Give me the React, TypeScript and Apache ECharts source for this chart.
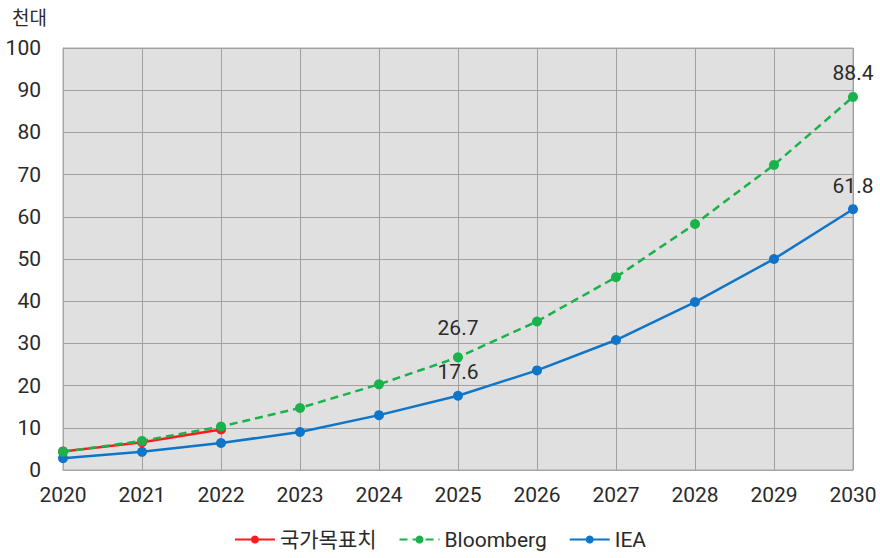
import React, { useEffect, useRef } from "react";
import * as echarts from "echarts";

const years = ["2020", "2021", "2022", "2023", "2024", "2025", "2026", "2027", "2028", "2029", "2030"];
const nationalTarget = [4.4, 6.6, 9.6];
const bloomberg = [4.3, 6.9, 10.3, 14.7, 20.3, 26.7, 35.2, 45.7, 58.3, 72.3, 88.4];
const iea = [2.8, 4.3, 6.4, 9.0, 13.0, 17.6, 23.6, 30.8, 39.8, 50.0, 61.8];
const labelIdx = [5, 10];

const FONT = "Roboto, 'Noto Sans CJK KR', sans-serif";

export default function App() {
  const ref = useRef<HTMLDivElement>(null);
  useEffect(() => {
    const chart = echarts.init(ref.current!, undefined, { renderer: "svg" });
    const lbl = (v: number[]) =>
      v.map((y, i) =>
        labelIdx.includes(i)
          ? { value: y, label: { show: true, position: "top", distance: i === 5 && v === bloomberg ? 14 : 8, formatter: String(y), fontSize: 21, color: "#2a2a2a", fontFamily: FONT } }
          : y
      );
    chart.setOption({
      animation: false,
      textStyle: { fontFamily: FONT },
      grid: { left: 63, right: 27, top: 48, bottom: 88, show: true, backgroundColor: "#e0e0e0", borderColor: "#a6a6a6", borderWidth: 1 },
      title: { text: "천대", left: 7, top: 4, textStyle: { fontSize: 19, fontWeight: "normal", color: "#2a2a2a", fontFamily: FONT } },
      legend: {
        bottom: 3,
        left: "center",
        itemWidth: 40,
        itemHeight: 10,
        itemGap: 22,
        textStyle: { fontSize: 21, color: "#2a2a2a", fontFamily: FONT },
        data: ["국가목표치", "Bloomberg", "IEA"],
      },
      xAxis: {
        type: "category",
        data: years,
        boundaryGap: false,
        axisLine: { lineStyle: { color: "#a6a6a6" } },
        axisTick: { show: false },
        axisLabel: { fontSize: 21, color: "#2a2a2a", margin: 14 },
        splitLine: { show: true, lineStyle: { color: "#a0a0a0", width: 1 } },
      },
      yAxis: {
        type: "value",
        min: 0,
        max: 100,
        interval: 10,
        axisLine: { show: true, lineStyle: { color: "#a6a6a6" } },
        axisLabel: { fontSize: 21, color: "#2a2a2a", margin: 22 },
        splitLine: { lineStyle: { color: "#a0a0a0", width: 1 } },
      },
      series: [
        {
          name: "IEA",
          type: "line",
          data: lbl(iea),
          symbol: "circle",
          symbolSize: 10,
          itemStyle: { color: "#0f75c8" },
          lineStyle: { width: 2.5, color: "#0f75c8" },
          z: 2,
        },
        {
          name: "Bloomberg",
          type: "line",
          data: lbl(bloomberg),
          symbol: "circle",
          symbolSize: 10,
          itemStyle: { color: "#1ab24b" },
          lineStyle: { width: 2.5, type: [8, 5], color: "#1ab24b" },
          z: 4,
        },
        {
          name: "국가목표치",
          type: "line",
          data: nationalTarget,
          symbol: "circle",
          symbolSize: 10,
          itemStyle: { color: "#ff1a1a" },
          lineStyle: { width: 2.5, color: "#ff1a1a" },
          z: 3,
        },
      ],
    });
    return () => chart.dispose();
  }, []);
  return <div ref={ref} style={{ width: 880, height: 558, position: "absolute", left: 0, top: 0 }} />;
}
